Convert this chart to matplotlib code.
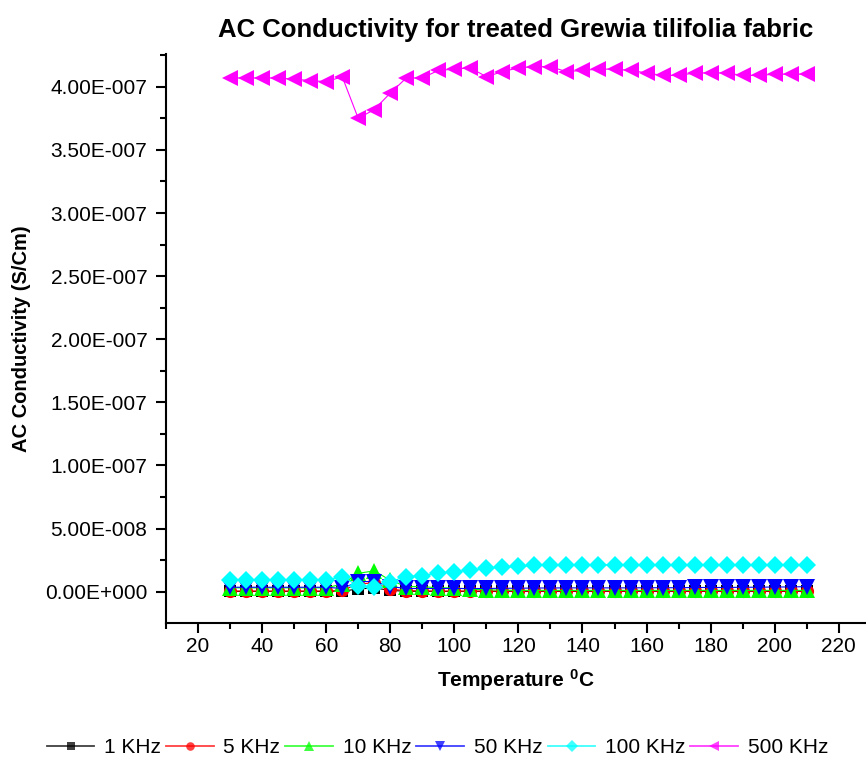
import matplotlib
matplotlib.use("Agg")
import matplotlib.pyplot as plt
from matplotlib.ticker import FuncFormatter, MultipleLocator

plt.rcParams["font.family"] = ["Liberation Sans", "DejaVu Sans"]
plt.rcParams["mathtext.fontset"] = "custom"
plt.rcParams["mathtext.rm"] = "Liberation Sans"
plt.rcParams["mathtext.bf"] = "Liberation Sans:bold"

temperature = [30, 35, 40, 45, 50, 55, 60, 65, 70, 75, 80, 85, 90, 95, 100, 105, 110,
               115, 120, 125, 130, 135, 140, 145, 150, 155, 160, 165, 170, 175, 180,
               185, 190, 195, 200, 205, 210]

khz_1 = [2e-10, 2e-10, 2e-10, 2e-10, 2e-10, 2e-10, 2e-10, 5e-10, 2e-9, 3e-9, 1e-9,
         3e-10, 2e-10, 2e-10, 2e-10, 2e-10, 2e-10, 2e-10, 2e-10, 2e-10, 2e-10, 2e-10,
         2e-10, 2e-10, 2e-10, 2e-10, 2e-10, 2e-10, 2e-10, 2e-10, 2e-10, 2e-10, 2e-10,
         2e-10, 2e-10, 2e-10, 2e-10]
khz_5 = [5e-10, 5e-10, 5e-10, 5e-10, 5e-10, 5e-10, 5e-10, 1e-9, 6e-9, 7e-9, 2e-9,
         8e-10, 6e-10, 5e-10, 5e-10, 5e-10, 5e-10, 5e-10, 5e-10, 5e-10, 5e-10, 5e-10,
         5e-10, 5e-10, 5e-10, 5e-10, 5e-10, 5e-10, 5e-10, 5e-10, 5e-10, 5e-10, 5e-10,
         5e-10, 5e-10, 5e-10, 5e-10]
khz_10 = [3e-9, 3e-9, 3e-9, 3e-9, 3e-9, 3e-9, 3e-9, 6e-9, 1.45e-8, 1.65e-8, 9e-9,
          4e-9, 4e-9, 3e-9, 3e-9, 2e-9, 1.5e-9, 1.2e-9, 1e-9, 1e-9, 1e-9, 1e-9,
          1e-9, 1e-9, 1e-9, 1e-9, 1e-9, 1e-9, 1e-9, 1e-9, 1e-9, 1e-9, 1e-9,
          1e-9, 1e-9, 1e-9, 1e-9]
khz_50 = [3.5e-9, 3.5e-9, 3.5e-9, 3.5e-9, 3.5e-9, 3.5e-9, 3.5e-9, 2.5e-9, 8e-9, 8e-9, 4e-9,
          2.5e-9, 2.5e-9, 2.5e-9, 2.5e-9, 2.5e-9, 2.5e-9, 2.7e-9, 2.7e-9, 2.9e-9, 2.9e-9, 3e-9,
          3e-9, 3e-9, 3e-9, 3e-9, 3.1e-9, 3.1e-9, 3.1e-9, 3.3e-9, 3.3e-9, 3.3e-9,
          3.5e-9, 3.5e-9, 3.7e-9, 3.7e-9, 4e-9]
khz_100 = [9e-9, 9e-9, 9e-9, 9e-9, 9e-9, 9e-9, 9e-9, 1.2e-8, 4.5e-9, 3.5e-9, 8e-9,
           1.2e-8, 1.24e-8, 1.5e-8, 1.58e-8, 1.7e-8, 1.85e-8, 1.95e-8, 2.0e-8, 2.08e-8,
           2.1e-8, 2.1e-8, 2.1e-8, 2.1e-8, 2.15e-8, 2.1e-8, 2.1e-8, 2.1e-8, 2.1e-8,
           2.1e-8, 2.1e-8, 2.1e-8, 2.1e-8, 2.15e-8, 2.1e-8, 2.1e-8, 2.15e-8]
khz_500 = [4.07e-7, 4.07e-7, 4.07e-7, 4.07e-7, 4.06e-7, 4.05e-7, 4.04e-7, 4.08e-7,
           3.75e-7, 3.82e-7, 3.95e-7, 4.07e-7, 4.07e-7, 4.13e-7, 4.14e-7, 4.15e-7,
           4.08e-7, 4.12e-7, 4.15e-7, 4.16e-7, 4.16e-7, 4.12e-7, 4.13e-7, 4.14e-7,
           4.14e-7, 4.13e-7, 4.11e-7, 4.09e-7, 4.09e-7, 4.11e-7, 4.11e-7, 4.11e-7,
           4.09e-7, 4.09e-7, 4.10e-7, 4.10e-7, 4.10e-7]

series_labels = ["1 KHz", "5 KHz", "10 KHz", "50 KHz", "100 KHz", "500 KHz"]
series_values = [khz_1, khz_5, khz_10, khz_50, khz_100, khz_500]
series_colors = ["#000000", "#ff0000", "#00ff00", "#0000ff", "#00ffff", "#ff00ff"]
series_markers = ["s", "o", "^", "v", "D", "<"]
series_sizes = [9, 9.5, 11, 11, 9, 11]


def sci_label(value, pos):
    mantissa, exponent = f"{value:.2E}".split("E")
    sign = "-" if int(exponent) < 0 else "+"
    return f"{mantissa}E{sign}{abs(int(exponent)):03d}"


fig = plt.figure(figsize=(8.66, 7.67), dpi=100)
ax = fig.add_axes([0.1917, 0.1883, 0.8083, 0.7413])

for label, values, color, marker, size in zip(
    series_labels, series_values, series_colors, series_markers, series_sizes
):
    ax.plot(temperature, values, color=color, marker=marker, markersize=size,
            linewidth=0.8, markeredgewidth=0, label=label)

ax.set_xlim(10, 228.5)
ax.set_ylim(-2.45e-8, 4.26e-7)
ax.xaxis.set_major_locator(MultipleLocator(20))
ax.xaxis.set_minor_locator(MultipleLocator(10))
ax.yaxis.set_major_locator(MultipleLocator(5e-8))
ax.yaxis.set_minor_locator(MultipleLocator(2.5e-8))
ax.yaxis.set_major_formatter(FuncFormatter(sci_label))
ax.xaxis.set_major_formatter(FuncFormatter(lambda v, p: f"{v:.0f}" if v >= 20 else ""))

ax.spines["top"].set_visible(False)
ax.spines["right"].set_visible(False)
for side in ("left", "bottom"):
    ax.spines[side].set_linewidth(1.5)
ax.tick_params(which="major", direction="out", length=7.5, width=1.5, labelsize=15)
ax.tick_params(axis="x", which="major", pad=3)
ax.tick_params(axis="y", which="major", pad=6)
ax.tick_params(which="minor", direction="out", length=4, width=1.5)

ax.set_title("AC Conductivity for treated Grewia tilifolia fabric",
             fontsize=18.5, fontweight="bold", pad=12)
ax.set_ylabel("AC Conductivity (S/Cm)", fontsize=14.5, fontweight="bold", labelpad=10)
ax.set_xlabel(r"Temperature $\mathbf{^0}$C", fontsize=15, fontweight="bold", labelpad=8)

legend = fig.legend(loc="lower center", bbox_to_anchor=(0.505, -0.012), ncol=6,
                    frameon=False, fontsize=15, markerscale=0.65, handlelength=2.3,
                    handletextpad=0.45, columnspacing=0.25)
for handle in legend.get_lines():
    handle.set_linewidth(1.3)
    handle.set_alpha(0.75)

fig.savefig("out.png", dpi=100)
